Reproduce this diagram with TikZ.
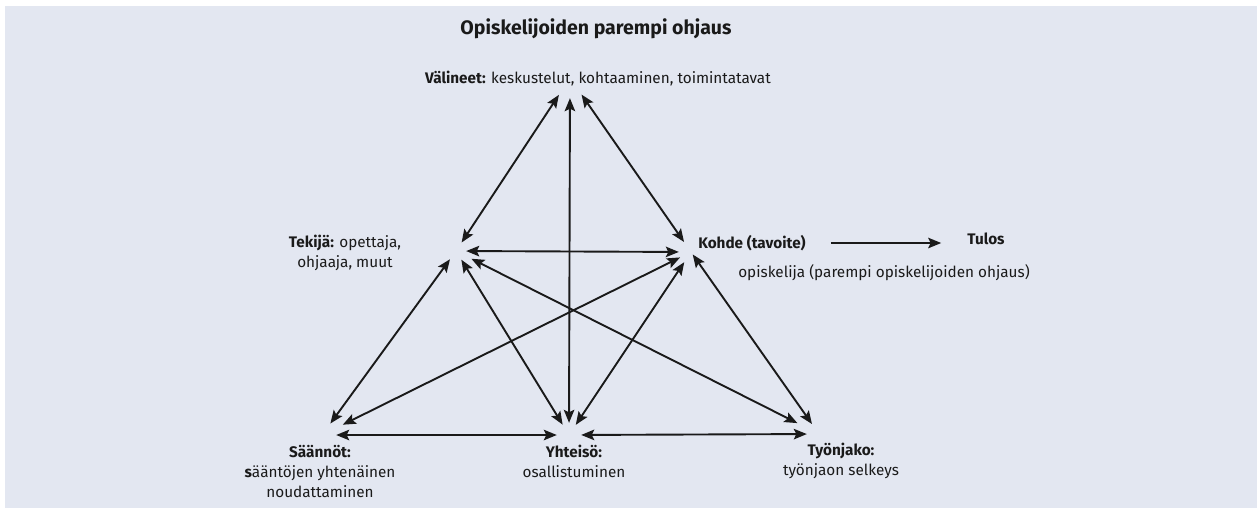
\documentclass[tikz,border=0pt]{standalone}
\usepackage{fontspec}
\setmainfont{Fira Sans}
\usetikzlibrary{arrows.meta,calc}
\definecolor{bg}{HTML}{E3E7F1}
\definecolor{ink}{HTML}{1A1A1A}
\begin{document}
\begin{tikzpicture}[x=1pt,y=-1pt,
  hub/.style={circle,inner sep=0pt,minimum size=#1},
  lbl/.style={text=ink,align=center,inner sep=0pt,font=\fontsize{15.3}{20}\selectfont},
  link/.style={{Stealth[length=13pt,width=10.5pt,inset=2.5pt]}-{Stealth[length=13pt,width=10.5pt,inset=2.5pt]},line width=1.9pt,draw=ink},
  oneway/.style={-{Stealth[length=13pt,width=10.5pt,inset=2.5pt]},line width=1.9pt,draw=ink}]
\useasboundingbox (0,0) rectangle (1258,509);
\fill[white] (0,0) rectangle (1258,509);
\fill[bg] (5,6) rectangle (1257,508);

% labels
\node[lbl,font=\fontsize{19.5}{24}\selectfont\bfseries] (title) at (596,29) {Opiskelijoiden parempi ohjaus};
\node[lbl] (vtext) at (598,79) {\textbf{Välineet:} keskustelut, kohtaaminen, toimintatavat};
\node[lbl] (ttext) at (345,253) {\textbf{Tekijä:} opettaja,\\ohjaaja, muut};
\node[lbl] (ktext) at (752,243) {\textbf{Kohde (tavoite)}};
\node[lbl] (tulos) at (986,239) {\textbf{Tulos}};
\node[lbl] (otext) at (884,273) {opiskelija (parempi opiskelijoiden ohjaus)};
\node[lbl] (stext) at (320,471) {\textbf{Säännöt:}\\\textbf{s}ääntöjen yhtenäinen\\noudattaminen};
\node[lbl] (ytext) at (574,461) {\textbf{Yhteisö:}\\osallistuminen};
\node[lbl] (wtext) at (841,461) {\textbf{Työnjako:}\\työnjaon selkeys};

% hubs
\node[hub=40] (V) at (570,78) {};
\node[hub=20] (T) at (456,251) {};
\node[hub=24] (K) at (691,252) {};
\node[hub=28] (S) at (322,435) {};
\node[hub=24] (Y) at (569,435) {};
\node[hub=24] (W) at (819,434) {};

% connectors
\draw[link] (V) -- (T);
\draw[link] (V) -- (Y);
\draw[link] (V) -- (K);
\draw[link] (T) -- (K);
\draw[link] (T) -- (S);
\draw[link] (T) -- (Y);
\draw[link,shorten <=7pt,shorten >=12pt] (T) -- (W);
\draw[link,shorten >=9pt] (K) -- (S);
\draw[link] (K) -- (Y);
\draw[link,shorten <=3pt] (K.center) -- (W);
\draw[link] (S) -- (Y);
\draw[link] (Y) -- (W);
\draw[oneway,shorten <=25pt,shorten >=26pt] (ktext.east) -- (ktext.east -| tulos.west);
\end{tikzpicture}
\end{document}
